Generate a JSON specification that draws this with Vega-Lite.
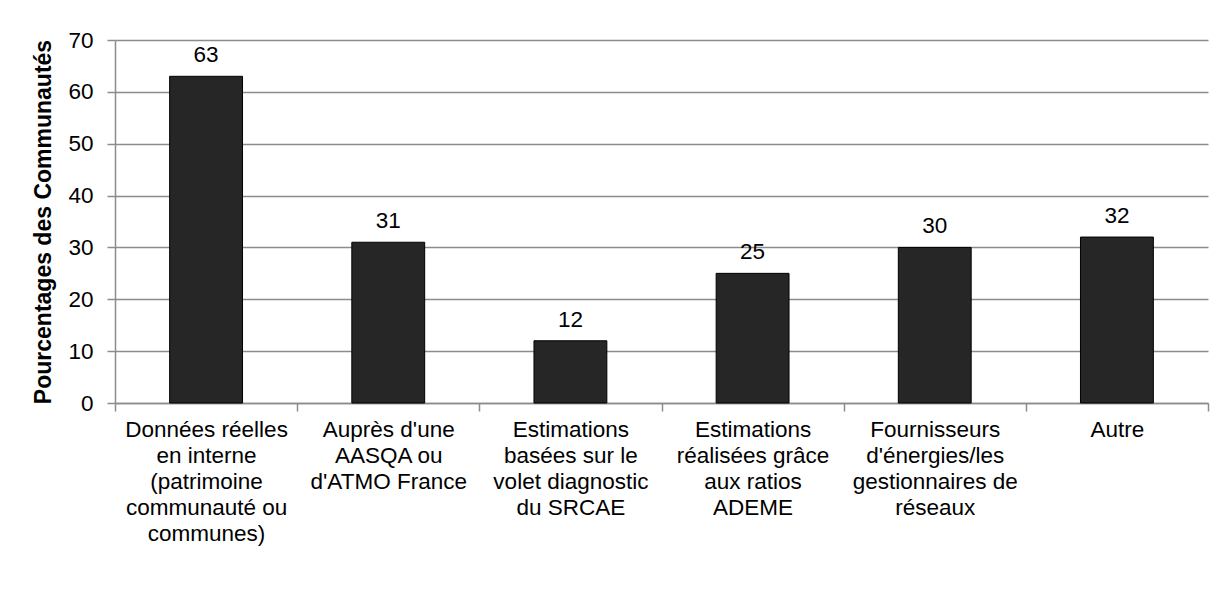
{
  "$schema": "https://vega.github.io/schema/vega-lite/v6.json",
  "width": 1093,
  "height": 363,
  "autosize": {"type": "none"},
  "padding": {"left": 115, "top": 40, "right": 23, "bottom": 200},
  "background": "white",
  "config": {"view": {"stroke": null}, "font": "Liberation Sans"},
  "data": {
    "values": [
      {"cat": "Données réelles|en interne|(patrimoine|communauté ou|communes)", "val": 63},
      {"cat": "Auprès d'une|AASQA ou|d'ATMO France", "val": 31},
      {"cat": "Estimations|basées sur le|volet diagnostic|du SRCAE", "val": 12},
      {"cat": "Estimations|réalisées grâce|aux ratios|ADEME", "val": 25},
      {"cat": "Fournisseurs|d'énergies/les|gestionnaires de|réseaux", "val": 30},
      {"cat": "Autre", "val": 32}
    ]
  },
  "encoding": {
    "x": {
      "field": "cat",
      "type": "nominal",
      "sort": null,
      "scale": {"paddingInner": 0, "paddingOuter": 0},
      "axis": {
        "title": null,
        "labelExpr": "split(datum.label, '|')",
        "labelAngle": 0,
        "labelFontSize": 22.5,
        "labelLineHeight": 26,
        "labelColor": "#000000",
        "labelLimit": 400,
        "labelPadding": 7,
        "tickBand": "extent",
        "tickSize": 8,
        "tickColor": "#8c8c8c",
        "tickWidth": 1.5,
        "domainColor": "#8c8c8c",
        "domainWidth": 1.5,
        "grid": false
      }
    },
    "y": {
      "field": "val",
      "type": "quantitative",
      "scale": {"domain": [0, 70]},
      "axis": {
        "title": "Pourcentages des Communautés",
        "titleFontSize": 23,
        "titleFontWeight": "bold",
        "titleColor": "#000000",
        "titlePadding": 12,
        "values": [0, 10, 20, 30, 40, 50, 60, 70],
        "grid": true,
        "gridColor": "#8c8c8c",
        "gridWidth": 1.5,
        "domainColor": "#8c8c8c",
        "domainWidth": 1.5,
        "tickColor": "#8c8c8c",
        "tickWidth": 1.5,
        "tickSize": 8,
        "labelFontSize": 22.5,
        "labelColor": "#000000",
        "labelPadding": 14
      }
    }
  },
  "layer": [
    {
      "mark": {"type": "bar", "width": {"band": 0.4}, "color": "#262626", "stroke": "#000000", "strokeWidth": 1}
    },
    {
      "mark": {"type": "text", "baseline": "bottom", "dy": -9, "fontSize": 22.5, "color": "#000000"},
      "encoding": {"text": {"field": "val", "type": "quantitative"}}
    }
  ]
}
